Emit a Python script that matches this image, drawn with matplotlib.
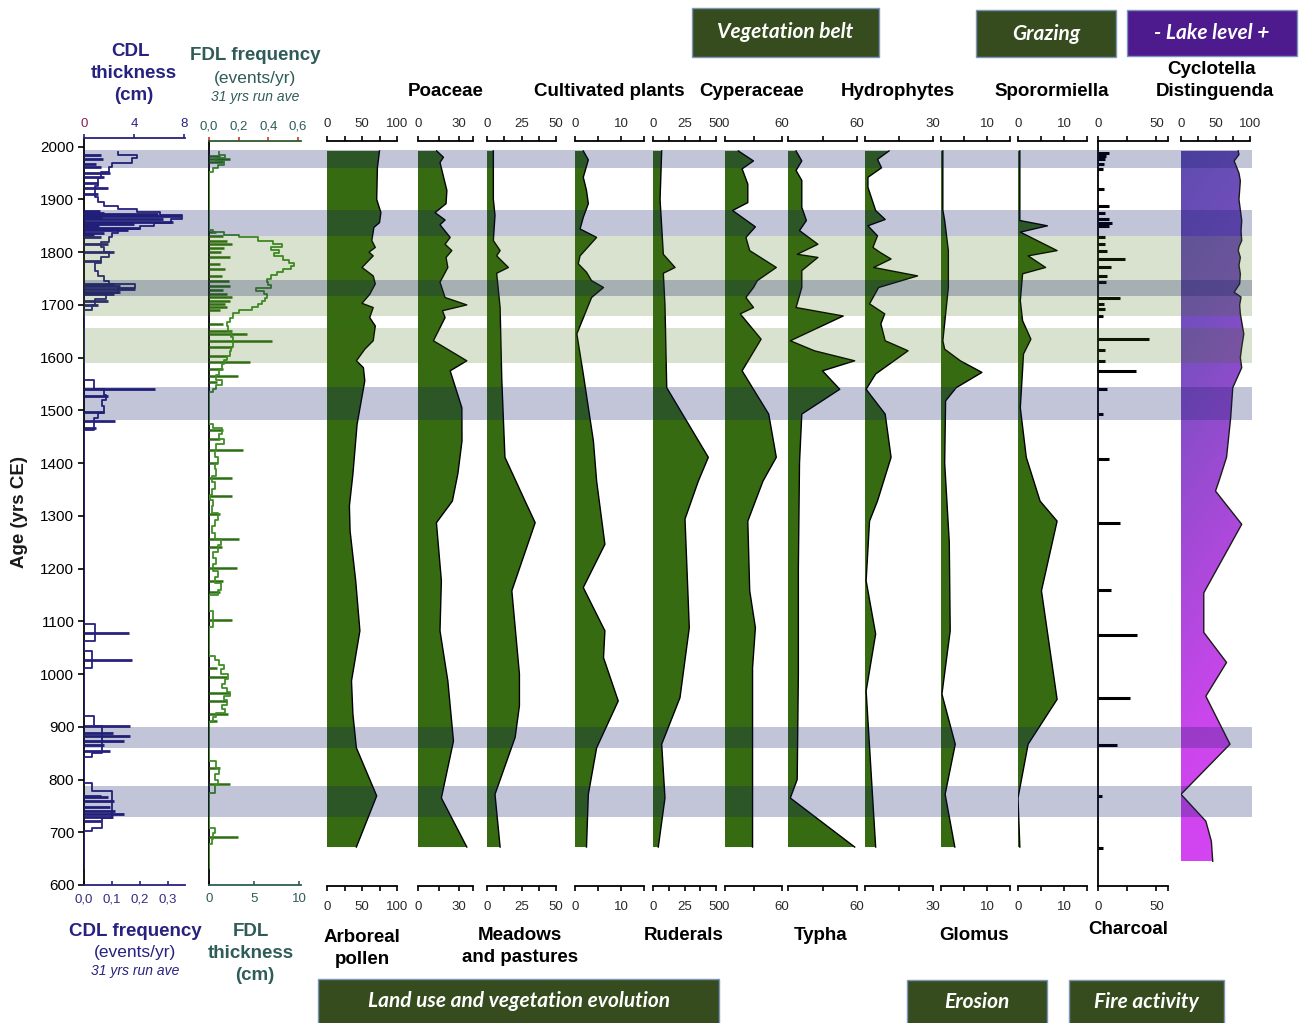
import numpy as np
import matplotlib
matplotlib.use("Agg")
import matplotlib.pyplot as plt
from matplotlib.patches import Rectangle, Polygon
from matplotlib.colors import LinearSegmentedColormap

plt.rcParams['font.family'] = ['Liberation Sans', 'DejaVu Sans']

# ---------------------------------------------------------------- data
# Coarse detrital layers: 31-yr running frequency (events/yr), stepwise
cdl_freq_years = [1990, 1985, 1978, 1970, 1962, 1952, 1940, 1925, 1905, 1895,
                  1888, 1882, 1876, 1870, 1862, 1856, 1850, 1844, 1836, 1828,
                  1820, 1810, 1800, 1790, 1780, 1765, 1755, 1746, 1740, 1732,
                  1722, 1712, 1700, 1690,
                  1557, 1541, 1530, 1520, 1508, 1495, 1485, 1463,
                  1095, 1063, 1044, 1012,
                  920, 901, 851, 842,
                  794, 779, 727, 708, 702, 632]
cdl_freq_vals = [0.12, 0.19, 0.17, 0.10, 0.09, 0.06, 0.05, 0.04, 0.05, 0.07,
                 0.12, 0.19, 0.27, 0.35, 0.31, 0.25, 0.20, 0.12, 0.10, 0.09,
                 0.06, 0.07, 0.09, 0.06, 0.04, 0.05, 0.07, 0.09, 0.18, 0.12,
                 0.08, 0.04, 0.03, 0.0,
                 0.035, 0.07, 0.078, 0.065, 0.07, 0.05, 0.035, 0.0,
                 0.04, 0.0, 0.03, 0.0,
                 0.035, 0.065, 0.03, 0.0,
                 0.03, 0.10, 0.065, 0.03, 0.0, 0.0]
# Coarse detrital layers: individual event thickness (cm)
cdl_event_years = [1985, 1977, 1967, 1961, 1951, 1942, 1932, 1922, 1910, 1879,
                   1875, 1872, 1868, 1865, 1862, 1858, 1853, 1850, 1846, 1842,
                   1837, 1833, 1828, 1815, 1800, 1784, 1740, 1736, 1731, 1725,
                   1721, 1708, 1699, 1541, 1527, 1496, 1480, 1467, 1077, 1027,
                   901, 889, 882, 873, 866, 854, 769, 766, 760, 747,
                   740, 734, 728, 721]
cdl_event_thick = [1.35, 1.5, 0.95, 1.35, 2.1, 1.6, 1.1, 1.9, 1.1, 1.3,
                   1.6, 5.9, 7.8, 1.4, 6.3, 7.1, 4.0, 1.2, 4.5, 3.5,
                   1.6, 0.8, 1.35, 1.9, 2.4, 1.35, 2.4, 2.9, 4.1, 2.9,
                   2.4, 1.9, 1.1, 5.7, 1.9, 1.6, 2.5, 0.95, 3.6, 3.8,
                   3.7, 2.3, 3.7, 3.2, 1.6, 2.1, 1.35, 1.9, 2.4, 2.1,
                   2.5, 3.2, 2.3, 1.35]

# Fine detrital layers: 31-yr running frequency (events/yr), stepwise
fdl_freq_years = [1990, 1984, 1978, 1972, 1966, 1960, 1952,
                  1842, 1838, 1833, 1828, 1822, 1816, 1810, 1804, 1798, 1792,
                  1786, 1780, 1774, 1768, 1762, 1756, 1750, 1744, 1738, 1732,
                  1726, 1720, 1714, 1708, 1702, 1696, 1690, 1684, 1676, 1668,
                  1660, 1650, 1640, 1630, 1620, 1612, 1604, 1596, 1588, 1578,
                  1568, 1558, 1548, 1540, 1535,
                  1474, 1466, 1456, 1446, 1436, 1424, 1412, 1400, 1388, 1376,
                  1364, 1350, 1340, 1330, 1318, 1305, 1292, 1280, 1268, 1256,
                  1244, 1232, 1220, 1208, 1196, 1184, 1172, 1160, 1150,
                  1120, 1090,
                  1034, 1026, 1018, 1010, 1000, 990, 982, 974, 966, 958,
                  950, 942, 934, 926, 918, 910,
                  835, 822, 810, 800, 790, 775,
                  708, 698, 688, 678, 632]
fdl_freq_vals = [0.07, 0.11, 0.05, 0.10, 0.06, 0.03, 0.0,
                 0.03, 0.10, 0.20, 0.33, 0.43, 0.49, 0.42, 0.47, 0.44, 0.50,
                 0.54, 0.57, 0.55, 0.50, 0.46, 0.42, 0.39, 0.40, 0.42, 0.32,
                 0.37, 0.39, 0.38, 0.36, 0.33, 0.29, 0.20, 0.16, 0.14, 0.12,
                 0.13, 0.15, 0.16, 0.16, 0.15, 0.14, 0.12, 0.10, 0.09, 0.07,
                 0.05, 0.09, 0.05, 0.03, 0.0,
                 0.03, 0.09, 0.07, 0.10, 0.05, 0.04, 0.06, 0.04, 0.05, 0.02,
                 0.04, 0.02, 0.01, 0.03, 0.02, 0.06, 0.04, 0.02, 0.04, 0.08,
                 0.06, 0.03, 0.05, 0.03, 0.06, 0.04, 0.08, 0.06, 0.0,
                 0.03, 0.0,
                 0.04, 0.07, 0.10, 0.08, 0.13, 0.11, 0.09, 0.12, 0.14, 0.10,
                 0.12, 0.09, 0.11, 0.05, 0.03, 0.0,
                 0.05, 0.07, 0.04, 0.06, 0.04, 0.0,
                 0.04, 0.03, 0.02, 0.0, 0.0]
# Fine detrital layers: individual event thickness (cm)
fdl_event_years = [1983, 1977, 1971, 1838, 1830, 1822, 1815, 1808, 1800, 1790,
                   1778, 1768, 1755, 1745, 1736, 1728, 1721, 1715, 1708, 1702,
                   1696, 1690, 1663, 1651, 1645, 1632, 1620, 1603, 1591, 1578,
                   1566, 1553, 1462, 1445, 1424, 1400, 1372, 1338, 1303, 1256,
                   1240, 1201, 1176, 1155, 1103, 1012, 994, 965, 949, 924,
                   911, 821, 791, 691]
fdl_event_thick = [1.2, 2.3, 1.5, 0.8, 1.5, 2.0, 2.6, 1.7, 1.3, 2.3,
                   1.2, 1.8, 1.4, 2.2, 2.3, 1.6, 2.0, 2.6, 2.3, 1.8,
                   2.0, 1.2, 1.6, 2.6, 4.2, 7.0, 2.6, 2.0, 4.5, 1.5,
                   3.2, 0.9, 1.5, 1.2, 3.8, 1.0, 2.5, 2.6, 1.2, 3.3,
                   1.4, 3.1, 1.5, 1.2, 2.5, 0.9, 2.0, 2.3, 2.0, 2.1,
                   0.9, 1.2, 2.3, 3.2]

# Pollen and spore curves (%)
ap_years = [1992, 1960, 1900, 1875, 1856, 1847, 1822, 1809, 1800, 1793, 1771, 1755,
            1740, 1720, 1703, 1695, 1676, 1660, 1632, 1616, 1594, 1581, 1556, 1474,
            1379, 1319, 1271, 1177, 1082, 987, 924, 860, 769, 672]
ap_vals = [75, 72, 71, 77, 75, 67, 64, 69, 60, 66, 50, 66,
           69, 61, 50, 66, 61, 69, 66, 54, 42, 52, 54, 43,
           37, 32, 33, 41, 47, 35, 37, 42, 71, 42]

poaceae_years = [1992, 1980, 1970, 1917, 1892, 1875, 1861, 1852, 1828, 1815, 1803,
                 1790, 1771, 1743, 1714, 1700, 1689, 1676, 1632, 1594, 1575, 1505,
                 1442, 1380, 1328, 1287, 1177, 1082, 987, 873, 765, 672]
poaceae_vals = [13.6, 18.5, 16, 21, 20.4, 12.4, 19.7, 16, 23.4, 19.7, 24.6,
                20.4, 21.7, 16, 19.7, 35.5, 17.8, 19.7, 11.2, 35.5, 23.4, 31.9,
                32, 29, 25, 13.4, 17, 16, 21.7, 25.8, 17, 35.5]

meadows_years = [1992, 1900, 1870, 1822, 1803, 1793, 1771, 1760, 1695, 1560, 1411,
                 1328, 1287, 1158, 1000, 940, 880, 772, 672]
meadows_vals = [4.6, 4.6, 5.8, 4.6, 9.5, 7, 15.5, 7, 9.5, 10.7, 13,
                27.6, 34.9, 18, 23.5, 23.5, 20.4, 5.8, 9.5]

cultivated_years = [1992, 1975, 1942, 1917, 1892, 1866, 1844, 1828, 1793, 1778, 1762,
                    1746, 1733, 1714, 1645, 1569, 1442, 1366, 1246, 1164, 1082, 1031,
                    949, 860, 772, 672]
cultivated_vals = [1.8, 2.9, 1.8, 2.5, 2.9, 1.8, 1.1, 4.7, 1.1, 0.7, 2.5,
                   3.6, 6.2, 3.6, 0.4, 1.8, 4, 4.7, 6.5, 1.8, 6.5, 6.2,
                   9.4, 4.7, 2.9, 2.5]

ruderals_years = [1992, 1900, 1796, 1771, 1760, 1700, 1543, 1411, 1366, 1294, 1088,
                  955, 867, 765, 672]
ruderals_vals = [6.9, 5.6, 8.2, 17.5, 8.2, 9.5, 10.9, 43.9, 36, 25.4, 28.8,
                 21.4, 6.9, 9.5, 4.2]

cyperaceae_years = [1992, 1973, 1958, 1929, 1894, 1879, 1848, 1828, 1803, 1771, 1746,
                    1733, 1714, 1695, 1683, 1635, 1575, 1493, 1411, 1366, 1290, 1158,
                    1088, 1012, 672]
cyperaceae_vals = [14, 30, 18, 24, 24, 8, 32, 22, 26, 54, 34,
                   30, 22, 30, 16, 38, 18, 46, 54, 40, 24, 26,
                   32, 29, 29]

typha_years = [1992, 1973, 1955, 1936, 1885, 1860, 1841, 1815, 1796, 1790, 1765,
               1733, 1695, 1679, 1632, 1613, 1594, 1575, 1540, 1493, 1400, 1200,
               1000, 800, 765, 672]
typha_vals = [7, 12, 7, 12, 12, 16, 10, 26, 8, 26, 12,
              12, 7, 48, 2, 23, 58, 30, 45, 12, 10, 9,
              9, 8, 2, 58]

hydro_years = [1992, 1976, 1960, 1942, 1923, 1879, 1862, 1850, 1831, 1809, 1800,
               1787, 1771, 1755, 1733, 1702, 1683, 1664, 1632, 1613, 1569, 1540,
               1493, 1411, 1328, 1290, 1177, 1076, 968, 672]
hydro_vals = [10.6, 5.5, 7.3, 1.3, 1.3, 4.7, 8.9, 1.3, 5.5, 3.5, 6.5,
              11.5, 3.8, 23.2, 6, 2, 8.7, 7, 8.9, 19, 4.7, 0.5,
              8.9, 11.5, 5.5, 2, 0.5, 4.7, 0.5, 4.7]

glomus_years = [1992, 1880, 1860, 1803, 1733, 1632, 1616, 1594, 1572, 1543, 1518,
                1400, 1250, 1082, 962, 867, 772, 672]
glomus_vals = [0.4, 0.4, 0.8, 1.6, 1.6, 0.4, 0.8, 4.2, 8.9, 3.3, 1,
               0.8, 1.8, 2, 0.2, 3.1, 0.9, 3]

sporo_years = [1992, 1860, 1850, 1838, 1803, 1793, 1771, 1759, 1708, 1670, 1635,
               1607, 1505, 1411, 1328, 1290, 1158, 952, 867, 765, 672]
sporo_vals = [0.4, 0.4, 6.4, 0.5, 8.5, 2.2, 6, 1, 0.5, 1, 2.8,
              1.2, 0.5, 1.8, 4.8, 8.5, 5.1, 8.5, 2.2, 0, 0.4]

# Charcoal (particles)
charcoal_years = [1989, 1983, 1977, 1968, 1958, 1920, 1888, 1875, 1863, 1856,
                  1850, 1828, 1815, 1803, 1787, 1771, 1755, 1743, 1714, 1702,
                  1692, 1679, 1635, 1614, 1594, 1574, 1540, 1494, 1407, 1287,
                  1160, 1075, 954, 865, 769, 671]
charcoal_vals = [9, 7, 6, 5, 4, 5, 9, 6, 9, 12,
                 9, 6, 6, 8, 23, 11, 8, 7, 19, 5,
                 6, 4, 43.6, 6, 6, 32.7, 8, 4, 9, 19,
                 11, 33, 27, 16, 3, 4]

# Cyclotella distinguenda (%)
cyclo_years = [1992, 1985, 1973, 1950, 1935, 1900, 1860, 1840, 1822, 1810,
               1803, 1790, 1775, 1759, 1740, 1724, 1715, 1700, 1683, 1645,
               1620, 1600, 1581, 1543, 1486, 1411, 1366, 1347, 1284, 1154,
               1079, 1022, 958, 867, 772, 721, 683, 645]
cyclo_vals = [83, 84, 77, 84, 86, 84, 88, 87, 88, 84,
              83, 86, 84, 86, 85, 77, 87, 85, 86, 91,
              88, 86, 88, 75, 72, 66, 55, 50, 88, 33,
              33, 66, 36, 71, 0, 36, 44, 46]

# Periods of enhanced CDL (blue) and FDL (green) deposition, yrs CE
cdl_periods = [(1960, 1994), (1831, 1880), (1717, 1747), (1482, 1544), (860, 900), (729, 788)]
fdl_periods = [(1679, 1830), (1590, 1657)]

# ---------------------------------------------------------------- style
NAVY = '#27217f'
SLATE = '#2f5c58'
FILL_GREEN = '#376b12'
BOX_GREEN = '#364c1e'
BOX_PURPLE = '#4e1b8e'
TICK_C = '#2a2a2a'

W, H, DPI = 1301, 1023, 100
fig = plt.figure(figsize=(W / DPI, H / DPI), dpi=DPI)
fig.patch.set_facecolor('white')

Y2000_PX, PX_PER_YR = 146.7, 0.52736


def px_to_year(py):
    return 2000 - (py - Y2000_PX) / PX_PER_YR


def add_px_axes(x0, x1, y0, y1, zorder=2):
    ax = fig.add_axes([x0 / W, 1 - y1 / H, (x1 - x0) / W, (y1 - y0) / H], zorder=zorder)
    ax.patch.set_alpha(0)
    ax.set_ylim(px_to_year(y1), px_to_year(y0))
    return ax


def bracket_panel(x0, x1, xmax, ticks, labels, with_bottom=True, left_spine=False):
    ax = add_px_axes(x0, x1, 141, 886)
    ax.set_xlim(0, xmax)
    top = ax.twiny()
    top.set_zorder(2)
    top.patch.set_alpha(0)
    top.set_xlim(0, xmax)

    ax.set_yticks([])
    for side in ('right', 'top'):
        ax.spines[side].set_visible(False)
    ax.spines['left'].set_visible(left_spine)
    ax.spines['left'].set_linewidth(1.3)
    ax.spines['bottom'].set_visible(with_bottom)
    ax.spines['bottom'].set_linewidth(1.3)
    ax.set_xticks(ticks)
    ax.set_xticklabels(labels)
    ax.tick_params(axis='x', bottom=with_bottom, labelbottom=with_bottom,
                   top=False, labeltop=False,
                   direction='out', length=3.6, width=1.2, pad=7.0,
                   labelsize=9.5, labelcolor=TICK_C)

    for side in ('left', 'right', 'bottom'):
        top.spines[side].set_visible(False)
    top.spines['top'].set_linewidth(1.3)
    top.set_xticks(ticks)
    top.set_xticklabels(labels)
    top.tick_params(axis='x', direction='out', length=3.6, width=1.2, pad=4.5,
                    labelsize=9.5, labelcolor=TICK_C)
    return ax


def filled_curve(ax, years, vals):
    ax.fill_betweenx(years, 0, vals, facecolor=FILL_GREEN, edgecolor='none', zorder=2)
    ax.plot(vals, years, color='black', lw=1.0, zorder=3)


# ------------------------------------------------ CDL panel
ax_cdl = add_px_axes(84, 185, 138, 885)
ax_cdl.set_ylim(600, px_to_year(138))
ax_cdl.set_xlim(0, 0.36)
ax_cdl_t = ax_cdl.twiny()
ax_cdl_t.patch.set_alpha(0)
ax_cdl_t.set_xlim(0, 8.08)

ax_cdl.spines['right'].set_visible(False)
ax_cdl.spines['top'].set_visible(False)
ax_cdl.spines['left'].set_color('black')
ax_cdl.spines['left'].set_linewidth(1.3)
ax_cdl.spines['bottom'].set_color(NAVY)
ax_cdl.spines['bottom'].set_linewidth(1.3)
ax_cdl.set_yticks(range(600, 2001, 100))
ax_cdl.tick_params(axis='y', direction='out', length=4, width=1.2, labelsize=11, pad=3)
ax_cdl.set_xticks([0, 0.1, 0.2, 0.3])
ax_cdl.set_xticklabels(['0,0', '0,1', '0,2', '0,3'])
ax_cdl.tick_params(axis='x', direction='in', length=3, width=1.2, color=NAVY, pad=6,
                   labelsize=9.5, labelcolor='#3b2a82')
ax_cdl.plot(cdl_freq_vals, cdl_freq_years, drawstyle='steps-pre', color=NAVY, lw=1.3, zorder=3)

for side in ('left', 'right', 'bottom'):
    ax_cdl_t.spines[side].set_visible(False)
ax_cdl_t.spines['top'].set_color(NAVY)
ax_cdl_t.spines['top'].set_linewidth(1.3)
ax_cdl_t.set_xticks([0, 4, 8])
ax_cdl_t.tick_params(axis='x', direction='out', length=3, width=1.2, color=NAVY, pad=3,
                     labelsize=9.5, labelcolor=NAVY)
ax_cdl_t.get_xticklabels()[0].set_color('#8a2050')
ax_cdl_t.hlines(cdl_event_years, 0, cdl_event_thick, colors=NAVY, lw=2.0, zorder=3)

# ------------------------------------------------ FDL panel
ax_fdl = add_px_axes(209, 301, 141, 885)
ax_fdl.set_ylim(600, px_to_year(141))
ax_fdl.set_xlim(0, 10.2)
ax_fdl_t = ax_fdl.twiny()
ax_fdl_t.patch.set_alpha(0)
ax_fdl_t.set_xlim(0, 0.62)

ax_fdl.set_yticks([])
ax_fdl.spines['right'].set_visible(False)
ax_fdl.spines['top'].set_visible(False)
ax_fdl.spines['left'].set_color('black')
ax_fdl.spines['left'].set_linewidth(1.3)
ax_fdl.spines['bottom'].set_color(SLATE)
ax_fdl.spines['bottom'].set_linewidth(1.3)
ax_fdl.set_xticks([0, 5, 10])
ax_fdl.tick_params(axis='x', direction='in', length=3, width=1.2, color=SLATE, pad=6,
                   labelsize=9.5, labelcolor=SLATE)
ax_fdl.hlines(fdl_event_years, 0, fdl_event_thick, colors='#2d6e12', lw=1.8, zorder=3)

for side in ('left', 'right', 'bottom'):
    ax_fdl_t.spines[side].set_visible(False)
ax_fdl_t.spines['top'].set_color('#2f5a2a')
ax_fdl_t.spines['top'].set_linewidth(1.3)
ax_fdl_t.set_xticks([0, 0.2, 0.4, 0.6])
ax_fdl_t.set_xticklabels(['0,0', '0,2', '0,4', '0,6'])
ax_fdl_t.tick_params(axis='x', direction='out', length=3, width=1.2, color='#d03030', pad=3,
                     labelsize=9.5, labelcolor=SLATE)
ax_fdl_t.plot(fdl_freq_vals, fdl_freq_years, drawstyle='steps-pre', color='#3f8f25', lw=1.3, zorder=4)

# ------------------------------------------------ pollen, spores and charcoal
ax = bracket_panel(327, 397, 100, [0, 25, 50, 75, 100], ['0', '', '50', '', '100'])
filled_curve(ax, ap_years, ap_vals)

ax = bracket_panel(418, 473, 40, [0, 15, 30, 40], ['0', '', '30', ''])
filled_curve(ax, poaceae_years, poaceae_vals)

ax = bracket_panel(487, 556, 50, [0, 12.5, 25, 37.5, 50], ['0', '', '25', '', '50'])
filled_curve(ax, meadows_years, meadows_vals)

ax = bracket_panel(575, 644, 15, [0, 5, 10, 15], ['0', '', '10', ''])
filled_curve(ax, cultivated_years, cultivated_vals)

ax = bracket_panel(653, 716, 50, [0, 12.5, 25, 37.5, 50], ['0', '', '25', '', '50'])
filled_curve(ax, ruderals_years, ruderals_vals)

ax = bracket_panel(725, 782, 60, [0, 30, 60], ['0', '', '60'])
filled_curve(ax, cyperaceae_years, cyperaceae_vals)

ax = bracket_panel(788, 857, 60, [0, 30, 60], ['', '', '60'])
filled_curve(ax, typha_years, typha_vals)

ax = bracket_panel(865, 933, 30, [0, 15, 30], ['', '', '30'])
filled_curve(ax, hydro_years, hydro_vals)

ax = bracket_panel(941, 1010, 15, [0, 5, 10, 15], ['', '', '10', ''])
filled_curve(ax, glomus_years, glomus_vals)

ax = bracket_panel(1018, 1087, 15, [0, 5, 10, 15], ['0', '', '10', ''])
filled_curve(ax, sporo_years, sporo_vals)

ax = bracket_panel(1098, 1168, 60, [0, 25, 50, 60], ['0', '', '50', ''], left_spine=True)
ax.hlines(charcoal_years, 0, charcoal_vals, colors='black', lw=2.2, zorder=3)

# Cyclotella: gradient-filled curve
ax_cyc = bracket_panel(1181, 1250, 100, [0, 25, 50, 75, 100], ['0', '', '50', '', '100'],
                       with_bottom=False)
ylim_cyc = ax_cyc.get_ylim()
verts = [(0, cyclo_years[0])] + list(zip(cyclo_vals, cyclo_years)) + [(0, cyclo_years[-1])]
clip_poly = Polygon(verts, closed=True, facecolor='none', edgecolor='none',
                    transform=ax_cyc.transData)
ax_cyc.add_patch(clip_poly)
cyc_cmap = LinearSegmentedColormap.from_list(
    'cyclo', ['#5f4cb0', '#774fc0', '#a34ad6', '#cb46ec', '#d944f5'])
vgrad = np.linspace(0, 1, 256).reshape(-1, 1)
hgrad = np.linspace(0, 1, 64).reshape(1, -1)
grad = 0.88 * vgrad + 0.12 * hgrad
im = ax_cyc.imshow(grad, cmap=cyc_cmap, aspect='auto', origin='upper',
                   extent=(0, 100, cyclo_years[-1], cyclo_years[0]), zorder=1)
im.set_clip_path(clip_poly)
ax_cyc.plot(cyclo_vals, cyclo_years, color='#1a1a1a', lw=1.0, zorder=3)
ax_cyc.set_xlim(0, 100)
ax_cyc.set_ylim(*ylim_cyc)

# ------------------------------------------------ shaded periods across all panels
ax_band = add_px_axes(0, W, Y2000_PX, 885, zorder=10)
ax_band.set_ylim(600, 2000)
ax_band.set_xlim(0, W)
ax_band.axis('off')
for lo, hi in fdl_periods:
    ax_band.axhspan(lo, hi, xmin=83 / W, xmax=1252 / W, facecolor='#416e0f', alpha=0.2, lw=0)
for lo, hi in cdl_periods:
    ax_band.axhspan(lo, hi, xmin=83 / W, xmax=1252 / W, facecolor='#0f1b63', alpha=0.25, lw=0)

# ------------------------------------------------ titles, headers and boxes
ann = fig.add_axes([0, 0, 1, 1], zorder=20)
ann.set_xlim(0, W)
ann.set_ylim(H, 0)
ann.axis('off')
ann.patch.set_alpha(0)

titles = [
    ('CDL', 131, 52, NAVY, 'bold', 'normal', 13.5),
    ('thickness', 134, 74, NAVY, 'bold', 'normal', 13.5),
    ('(cm)', 134, 96, NAVY, 'bold', 'normal', 13.5),
    ('FDL frequency', 255, 56, SLATE, 'bold', 'normal', 13.5),
    ('(events/yr)', 255, 78, SLATE, 'normal', 'normal', 12.5),
    ('31 yrs run ave', 255, 97, SLATE, 'normal', 'italic', 10),
    ('Poaceae', 446, 91, 'black', 'bold', 'normal', 13.5),
    ('Cultivated plants', 609, 91, 'black', 'bold', 'normal', 13.5),
    ('Cyperaceae', 752, 91, 'black', 'bold', 'normal', 13.5),
    ('Hydrophytes', 898, 91, 'black', 'bold', 'normal', 13.5),
    ('Sporormiella', 1052, 91, 'black', 'bold', 'normal', 13.5),
    ('Cyclotella', 1212, 69, 'black', 'bold', 'normal', 13.5),
    ('Distinguenda', 1215, 91, 'black', 'bold', 'normal', 13.5),
    ('Arboreal', 362, 937, 'black', 'bold', 'normal', 13.5),
    ('pollen', 362, 959, 'black', 'bold', 'normal', 13.5),
    ('Meadows', 520, 936, 'black', 'bold', 'normal', 13.5),
    ('and pastures', 520, 958, 'black', 'bold', 'normal', 13.5),
    ('Ruderals', 684, 936, 'black', 'bold', 'normal', 13.5),
    ('Typha', 821, 936, 'black', 'bold', 'normal', 13.5),
    ('Glomus', 974, 936, 'black', 'bold', 'normal', 13.5),
    ('Charcoal', 1128, 929, 'black', 'bold', 'normal', 13.5),
    ('CDL frequency', 135, 931, NAVY, 'bold', 'normal', 13.5),
    ('(events/yr)', 135, 953, NAVY, 'normal', 'normal', 12.5),
    ('31 yrs run ave', 135, 971, NAVY, 'normal', 'italic', 10),
    ('FDL', 251, 931, SLATE, 'bold', 'normal', 13.5),
    ('thickness', 251, 953, SLATE, 'bold', 'normal', 13.5),
    ('(cm)', 255, 975, SLATE, 'bold', 'normal', 13.5),
]
for txt, x, y, col, wt, st, sz in titles:
    ann.text(x, y, txt, ha='center', va='center', color=col, fontweight=wt,
             fontstyle=st, fontsize=sz)

ann.text(20, 512, 'Age (yrs CE)', ha='center', va='center', rotation=90,
         fontweight='bold', fontsize=13.5, color='#1a1a1a')

boxes = [
    ('Vegetation belt', 692, 8, 879, 57, BOX_GREEN),
    ('Grazing', 976, 10, 1116, 57, BOX_GREEN),
    ('- Lake level +', 1127, 10, 1297, 56, BOX_PURPLE),
    ('Land use and vegetation evolution', 318, 979, 719, 1026, BOX_GREEN),
    ('Erosion', 907, 980, 1047, 1026, BOX_GREEN),
    ('Fire activity', 1069, 980, 1224, 1026, BOX_GREEN),
]
for txt, x0, y0, x1, y1, col in boxes:
    ann.add_patch(Rectangle((x0, y0), x1 - x0, y1 - y0, facecolor=col,
                            edgecolor='#7d95ba', lw=1.0))
    ann.text((x0 + x1) / 2, (y0 + min(y1, 1023)) / 2, txt, ha='center', va='center',
             color='white', fontsize=15, fontstyle='italic', fontweight='bold',
             family=['Lato', 'DejaVu Sans'])

fig.savefig('out.png', dpi=DPI, facecolor='white')
